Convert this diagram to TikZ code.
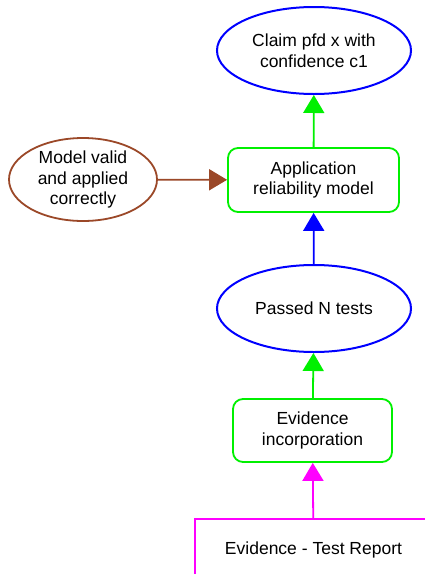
\documentclass[tikz,border=0pt]{standalone}
\usepackage{fontspec}
\setmainfont{Liberation Sans}
\usetikzlibrary{shapes.geometric,arrows.meta}
\definecolor{cblue}{RGB}{0,0,255}
\definecolor{cgreen}{RGB}{0,240,0}
\definecolor{cmag}{RGB}{255,0,255}
\definecolor{cbrown}{RGB}{155,72,40}
\tikzset{
  claimnode/.style={ellipse, draw=cblue, line width=2pt, inner sep=0pt, align=center},
  strategynode/.style={rectangle, rounded corners=10pt, draw=cgreen, line width=1.8pt, inner sep=0pt, align=center},
  assumnode/.style={ellipse, draw=cbrown, line width=1.8pt, inner sep=0pt, align=center},
  evidnode/.style={rectangle, draw=cmag, line width=1.5pt, inner sep=0pt, align=center},
  link/.style={line width=1.8pt, -{Triangle[width=21pt,length=18pt]}},
  every node/.style={font=\fontsize{17.5}{20.5}\selectfont}
}
\begin{document}
\begin{tikzpicture}[x=1pt,y=-1pt]
\useasboundingbox (0,0) rectangle (425,574);
\clip (0,0) rectangle (425,574);
\fill[white] (0,0) rectangle (425,574);
\node[claimnode, minimum width=194pt, minimum height=87pt] (claim) at (314,50.5) {Claim pfd x with\\confidence c1};
\node[strategynode, minimum width=171pt, minimum height=64pt] (app) at (313.5,180) {Application\\reliability model};
\node[assumnode, minimum width=148pt, minimum height=83pt] (model) at (83,179.5) {Model valid\\and applied\\correctly};
\node[claimnode, minimum width=194pt, minimum height=87pt] (passed) at (314,308.5) {Passed N tests};
\node[strategynode, minimum width=159pt, minimum height=63pt] (evinc) at (312.5,430.5) {Evidence\\incorporation};
\node[evidnode, minimum width=237pt, minimum height=62pt] (report) at (313.5,550) {Evidence - Test Report};
\draw[link, cgreen] (app) -- (claim);
\draw[link, cbrown] (model) -- (app);
\draw[link, cblue] (passed) -- (app);
\draw[link, cgreen] (evinc) -- (passed);
\draw[link, cmag] (report) -- (evinc);
\end{tikzpicture}
\end{document}
